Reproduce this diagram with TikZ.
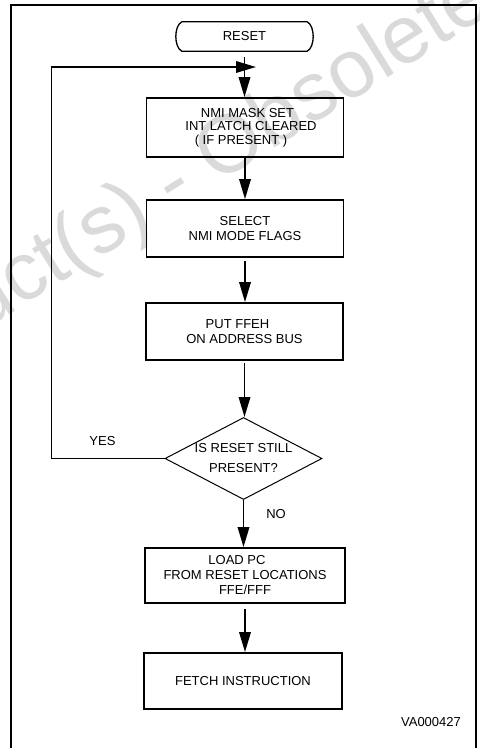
\documentclass[tikz,border=0pt]{standalone}
\usepackage{fontspec}
\setmainfont{Liberation Sans}
\usetikzlibrary{arrows.meta,shapes.geometric}
\definecolor{wmgray}{RGB}{218,218,218}
\tikzset{
  txt/.style={font=\fontsize{13bp}{15bp}\selectfont},
  box/.style={txt, draw, line width=1.8bp, minimum width=197bp, minimum height=57bp,
              inner sep=0pt, align=center},
  decision/.style={txt, diamond, draw, line width=1bp, minimum width=157bp,
              minimum height=82bp, inner sep=0pt, aspect=1.9, align=center},
  terminal/.style={txt, minimum width=125bp, minimum height=29bp, inner sep=0pt},
  flow/.style={line width=1.8bp, -{Triangle[length=20bp,width=11.5bp]}},
  lbl/.style={txt, inner sep=0pt},
  wm/.style={text=wmgray, font=\fontsize{82bp}{86bp}\selectfont, inner sep=0pt}
}
\begin{document}
\begin{tikzpicture}[x=1bp,y=-1bp]
\useasboundingbox (0,0) rectangle (480,748);
\clip (0,0) rectangle (480,748);
\fill[white] (0,0) rectangle (480,748);

% watermark
\node[wm, rotate=32, anchor=base] (watermark) at (186,204)
  {Obsolete Product(s) - Obsolete Product(s)};

% frame
\draw[line width=2bp] (11,760) -- (11,5) -- (476,5) -- (476,760);

% nodes
\node[terminal] (reset) at (244.5,36.5) {RESET};
\draw[line width=1.3bp]
  (reset.north west) -- (reset.north east)
  .. controls +(8,4) and +(8,-4) .. (reset.south east)
  -- (reset.south west)
  .. controls +(-8,-4) and +(-8,4) .. (reset.north west);

\node[box, minimum height=59bp, font=\fontsize{13bp}{13.5bp}\selectfont] (nmi) at (245,127.5)
  {\hspace*{5bp}NMI MASK SET\\\hspace*{12bp}INT LATCH CLEARED\\( IF PRESENT )\hspace*{8bp}};
\node[box] (select) at (245,228.5) {SELECT\\NMI MODE FLAGS};
\node[box] (put) at (244.5,331.5) {PUT FFEH\hspace*{14bp}\\ON ADDRESS BUS};
\node[decision, font=\fontsize{13bp}{20bp}\selectfont] (still) at (243.5,458.5)
  {IS RESET STILL\\PRESENT?};
\node[box, minimum width=200bp, minimum height=55bp] (load) at (245,575.5)
  {LOAD PC\hspace*{16bp}\\FROM RESET LOCATIONS\hspace*{6bp}\\FFE/FFF};
\node[box, minimum width=198bp, minimum height=56bp] (fetch) at (243,681)
  {FETCH INSTRUCTION};

\coordinate (looptip) at (256,67);

% connectors
\draw[flow, shorten <=6bp] (reset.south) -- (reset.south |- nmi.north);
\draw[flow] (nmi.south) -- (nmi.south |- select.north);
\draw[flow, shorten <=3bp] (select.south) -- (select.south |- put.north);
\draw[flow, shorten <=2bp] (put.south) -- (put.south |- still.north);
\draw[flow] (still.south) -- (still.south |- load.north);
\draw[flow, shorten <=5bp] (load.south) -- (load.south |- fetch.north);
\draw[flow] (still.west) -- ++(-113,0) |- (looptip);

% labels
\node[lbl] (yes) at (102.5,441) {YES};
\node[lbl] (no) at (276,514.5) {NO};
\node[lbl] (code) at (431,722.5) {VA000427};
\end{tikzpicture}
\end{document}
